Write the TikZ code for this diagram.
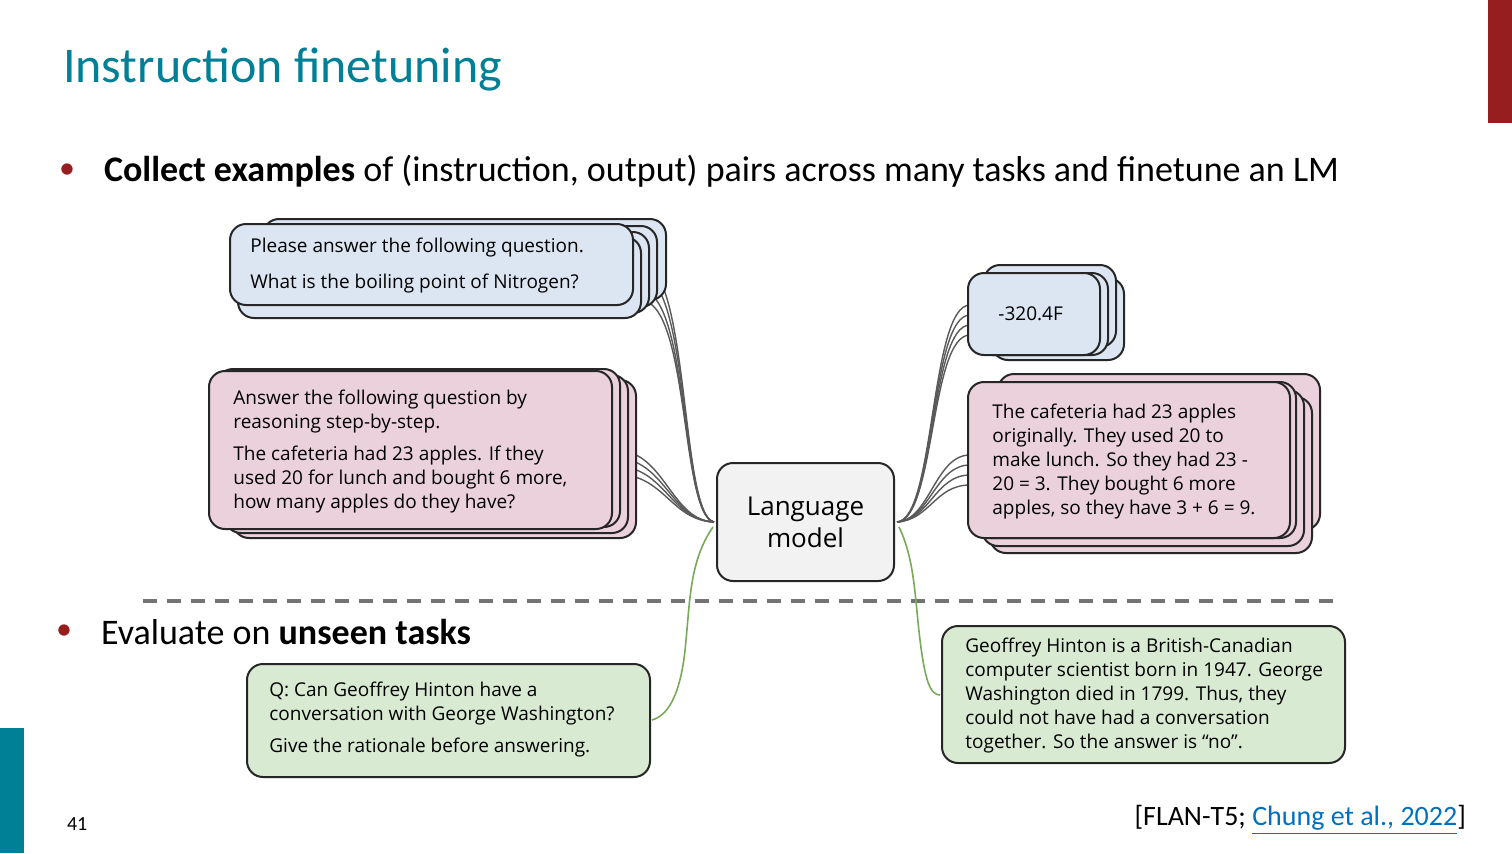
\documentclass[tikz,border=0pt]{standalone}
\usepackage{fontspec}
\setmainfont{Carlito}
\newfontfamily\boxfont{Open Sans}
\definecolor{teal1}{RGB}{0,128,150}
\definecolor{bluef}{RGB}{220,230,242}
\definecolor{pinkf}{RGB}{234,209,220}
\definecolor{greenf}{RGB}{217,234,211}
\definecolor{lmf}{RGB}{242,242,242}
\definecolor{redbar}{RGB}{150,30,30}
\definecolor{linkc}{RGB}{0,112,192}
\definecolor{greenl}{RGB}{120,170,90}
\tikzset{
 card/.style={draw=black!85,line width=1pt,rounded corners=8pt},
 txt/.style={font=\boxfont\fontsize{9.5}{12}\selectfont,align=left,anchor=north west,inner sep=0pt},
 conn/.style={draw=black!65,line width=0.7pt},
 gconn/.style={draw=greenl,line width=0.8pt}
}
\begin{document}
\begin{tikzpicture}[x=0.5pt,y=-0.5pt]
\useasboundingbox (0,0) rectangle (1512,853);
\fill[white] (0,0) rectangle (1512,853);
\fill[redbar] (1488,0) rectangle (1512,123);
\fill[teal1] (0,728) rectangle (24,853);
\node[anchor=west,text=teal1,font=\fontsize{25}{30}\selectfont] (title) at (56,70) {Instruction finetuning};
\node[text=redbar,font=\fontsize{16}{18}\selectfont] (b1) at (67,171) {•};
\node[anchor=west,font=\fontsize{18}{21}\selectfont] (l1) at (97,171) {\textbf{Collect examples} of (instruction, output) pairs across many tasks and finetune an LM};
\node[text=redbar,font=\fontsize{16}{18}\selectfont] (b2) at (64,632) {•};
\node[anchor=west,font=\fontsize{18}{21}\selectfont] (l2) at (94,632) {Evaluate on \textbf{unseen tasks}};
\draw[black!55,dash pattern=on 7pt off 5pt,line width=1.6pt] (143,601) coordinate(d1) -- (1338,601) coordinate(d2);
% LM
\draw[card,fill=lmf] (717,463) rectangle (894,581);
\node[font=\boxfont\fontsize{13}{16}\selectfont,align=center] (lm) at (805.5,522) {Language\\model};
\coordinate (lmL) at (714,522); \coordinate (lmR) at (897,522);
% connectors
\foreach \y in {262,275,290,300} \draw[conn] (640,\y) .. controls (690,\y) and (680,515) .. (lmL);
\foreach \y in {450,458,466,474} \draw[conn] (615,\y) .. controls (665,\y) and (670,520) .. (lmL);
\foreach \y in {305,315,325,335} \draw[conn] (970,\y) .. controls (930,\y) and (935,520) .. (lmR);
\foreach \y in {455,465,475,485} \draw[conn] (970,\y) .. controls (935,\y) and (930,520) .. (lmR);
% blue stack
\foreach \dx/\dy in {33/-5,24/2,16/8,8/13} \draw[card,fill=bluef] (230+\dx,224+\dy) rectangle (633+\dx,305+\dy);
\draw[card,fill=bluef] (230,224) rectangle (633,305);
\node[txt] (q1) at (250,238) {Please answer the following question.\\[6pt]What is the boiling point of Nitrogen?};
% pink left
\foreach \dx/\dy in {24/9,16/4,8/-2} \draw[card,fill=pinkf] (209+\dx,371+\dy) rectangle (612+\dx,529+\dy);
\draw[card,fill=pinkf] (209,371) rectangle (612,529);
\node[txt] (q2) at (233,390) {Answer the following question by\\reasoning step-by-step.\\[4pt]The cafeteria had 23 apples. If they\\used 20 for lunch and bought 6 more,\\how many apples do they have?};
% answer blue
\foreach \dx/\dy in {24/5,16/-8,8/0} \draw[card,fill=bluef] (968+\dx,273+\dy) rectangle (1100+\dx,355+\dy);
\draw[card,fill=bluef] (968,273) rectangle (1100,355);
\node[txt] (a1) at (998,306) {-320.4F};
% answer pink
\foreach \dx/\dy in {30/-8,22/15,14/8,6/0} \draw[card,fill=pinkf] (968+\dx,382+\dy) rectangle (1290+\dx,538+\dy);
\draw[card,fill=pinkf] (968,382) rectangle (1290,538);
\node[txt] (a2) at (992,404) {The cafeteria had 23 apples\\originally. They used 20 to\\make lunch. So they had 23 -\\20 = 3. They bought 6 more\\apples, so they have 3 + 6 = 9.};
% green
\draw[card,fill=greenf] (247,664) rectangle (650,777);
\node[txt] (g1) at (269,682) {Q: Can Geoffrey Hinton have a\\conversation with George Washington?\\[4pt]Give the rationale before answering.};
\draw[card,fill=greenf] (942,626) rectangle (1345,763);
\node[txt] (g2) at (965,638) {Geoffrey Hinton is a British-Canadian\\computer scientist born in 1947. George\\Washington died in 1799. Thus, they\\could not have had a conversation\\together. So the answer is “no”.};
\draw[gconn] (713,527) .. controls (690,560) and (690,600) .. (686,640) .. controls (682,690) and (670,715) .. (652,720);
\draw[gconn] (899,527) .. controls (915,560) and (915,600) .. (920,640) .. controls (925,680) and (930,695) .. (940,695);
\node[anchor=west,font=\fontsize{10}{12}\selectfont] (pg) at (60,824) {41};
\node[anchor=east,font=\fontsize{14}{16}\selectfont] (ref) at (1473,820) {[FLAN-T5; \textcolor{linkc}{\underline{Chung et al., 2022}}]};
\end{tikzpicture}
\end{document}
